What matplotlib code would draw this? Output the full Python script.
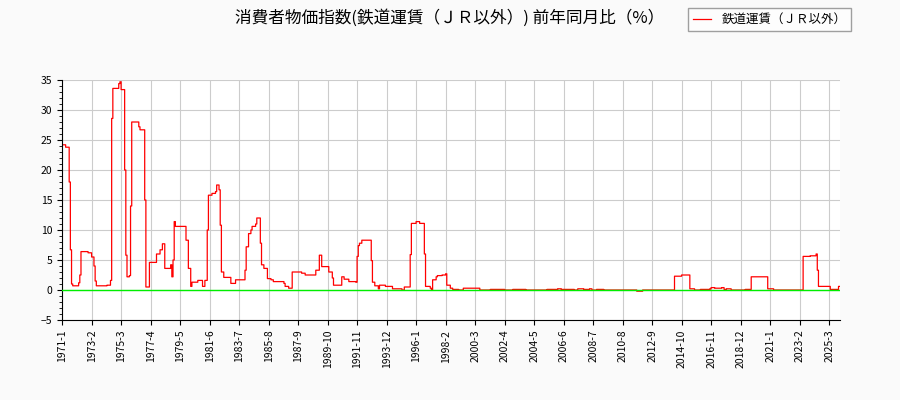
import matplotlib
matplotlib.use("Agg")
import matplotlib.pyplot as plt
from matplotlib.ticker import MultipleLocator
import numpy as np

plt.rcParams['font.family'] = ['Noto Sans CJK JP', 'DejaVu Sans']

# breakpoints: month offset from 1971-1, value held until next breakpoint
bp_month = [0, 3, 6, 7, 8, 9, 14, 15, 16, 22, 25, 27, 28, 29, 38, 41, 42, 43, 48, 49, 50, 53, 54, 55,
            57, 58, 59, 65, 66, 70, 71, 74, 80, 83, 85, 87, 92, 93, 94, 95, 96, 105, 107, 109, 110,
            115, 119, 121, 123, 124, 127, 130, 131, 133, 134, 135, 137, 143, 147, 155, 156, 158, 160,
            161, 164, 165, 168, 169, 171, 174, 177, 179, 188, 189, 192, 195, 203, 206, 215, 218, 220,
            226, 229, 230, 237, 239, 243, 249, 250, 251, 252, 254, 262, 263, 265, 268, 269, 274, 280,
            288, 290, 295, 296, 300, 303, 307, 308, 312, 313, 314, 317, 318, 322, 325, 326, 329, 331,
            336, 340, 351, 354, 363, 375, 382, 393, 411, 420, 423, 434, 437, 442, 447, 449, 453, 459,
            487, 492, 519, 525, 531, 532, 536, 541, 549, 550, 553, 559, 561, 563, 567, 579, 584, 597,
            598, 603, 628, 634, 639, 640, 641, 651, 658]
bp_value = [24.2, 23.8, 18.0, 6.7, 1.0, 0.7, 1.2, 2.5, 6.4, 6.2, 5.5, 4.0, 1.5, 0.7, 0.8, 1.6, 28.6,
            33.6, 34.4, 34.7, 33.4, 20.0, 5.8, 2.2, 2.4, 14.0, 28.0, 27.2, 26.7, 15.0, 0.5, 4.6, 6.0,
            6.7, 7.7, 3.6, 4.2, 2.2, 5.0, 11.4, 10.6, 8.3, 3.6, 0.6, 1.3, 1.6, 0.6, 1.6, 10.0, 15.8,
            16.1, 16.4, 17.5, 16.7, 10.8, 3.0, 2.1, 1.1, 1.7, 3.3, 7.2, 9.4, 10.0, 10.6, 11.0, 12.0,
            7.8, 4.2, 3.6, 1.9, 1.7, 1.4, 1.1, 0.6, 0.3, 3.0, 2.8, 2.5, 3.3, 5.8, 3.9, 3.0, 2.0, 0.8,
            2.2, 1.8, 1.4, 1.3, 5.6, 7.4, 7.8, 8.3, 4.9, 1.3, 0.7, 0.2, 0.8, 0.6, 0.2, 0.0, 0.5, 5.9,
            11.1, 11.4, 11.1, 6.0, 0.6, 0.3, 0.0, 1.7, 2.2, 2.4, 2.5, 2.7, 0.8, 0.3, 0.1, 0.0, 0.3, 0.3,
            0.0, 0.1, 0.0, 0.1, 0.0, 0.1, 0.2, 0.1, 0.0, 0.2, 0.1, 0.2, 0.0, 0.1, 0.0, -0.2, 0.0, 2.3,
            2.5, 2.5, 0.2, 0.0, 0.1, 0.2, 0.4, 0.3, 0.4, 0.1, 0.2, 0.0, 0.1, 2.2, 2.2, 0.2, 0.0, 5.6,
            5.7, 6.0, 3.3, 0.6, 0.1, 0.6]
n_months = 660
tick_step = 25

vals = np.zeros(n_months)
for i, m in enumerate(bp_month):
    end = bp_month[i + 1] if i + 1 < len(bp_month) else n_months
    vals[m:end] = bp_value[i]
x = np.arange(n_months)
labels = [f"{1971 + m // 12}-{m % 12 + 1}" for m in range(0, n_months, tick_step)]

fig = plt.figure(figsize=(9, 4), dpi=100, facecolor="#fafafa")
ax = fig.add_axes([0.069, 0.2, 0.864, 0.6])
ax.step(x, vals, where="post", color="red", lw=0.9, label="鉄道運賃（ＪＲ以外）")
ax.axhline(0, color="#00ee00", lw=1.0, zorder=3)
ax.set_xlim(0, n_months - 1)
ax.set_ylim(-5, 35)
ax.set_yticks(range(-5, 36, 5))
ax.yaxis.set_minor_locator(MultipleLocator(1))
ax.set_xticks(range(0, n_months, tick_step))
ax.set_xticklabels(labels, rotation=90, fontsize=7.5)
ax.tick_params(axis="y", labelsize=7.5)
ax.grid(color="#cccccc", lw=0.8)
for s in ["top", "right"]:
    ax.spines[s].set_visible(False)
fig.text(0.5, 0.955, "消費者物価指数(鉄道運賃（ＪＲ以外）) 前年同月比（%）", ha="center", va="center", fontsize=12)
fig.legend(loc="upper right", bbox_to_anchor=(0.953, 0.995), fontsize=9, frameon=True,
           fancybox=False, edgecolor="#888888", handlelength=1.5)
fig.savefig("out.png", dpi=100, facecolor=fig.get_facecolor())
